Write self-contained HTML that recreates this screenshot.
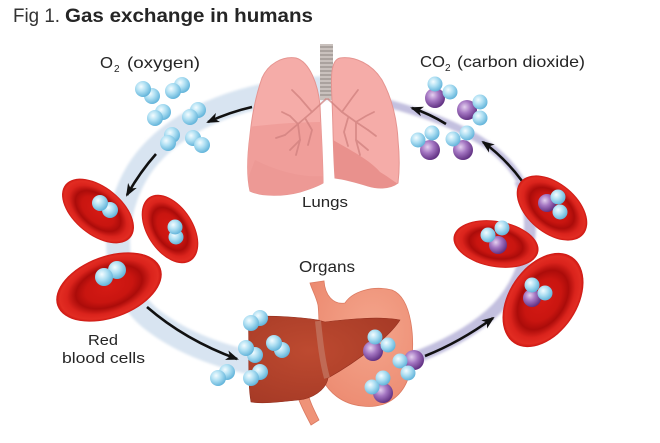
<!DOCTYPE html>
<html><head><meta charset="utf-8"><style>html,body{margin:0;padding:0;background:#fff;width:660px;height:443px;overflow:hidden}</style></head>
<body>
<svg width="660" height="443" viewBox="0 0 660 443" xmlns="http://www.w3.org/2000/svg" font-family="'Liberation Sans', sans-serif">
<defs>
<radialGradient id="gb" cx="0.38" cy="0.35" r="0.68"><stop offset="0" stop-color="#f4fcff"/><stop offset="0.45" stop-color="#b0e0f3"/><stop offset="1" stop-color="#5fb2d9"/></radialGradient>
<radialGradient id="gp" cx="0.38" cy="0.35" r="0.68"><stop offset="0" stop-color="#e4d0ef"/><stop offset="0.45" stop-color="#a476c2"/><stop offset="1" stop-color="#5e2e80"/></radialGradient>
<radialGradient id="rbc" cx="0.5" cy="0.5" r="0.5"><stop offset="0" stop-color="#d51a14"/><stop offset="0.45" stop-color="#c91510"/><stop offset="0.63" stop-color="#ab0c0a"/><stop offset="0.8" stop-color="#da231c"/><stop offset="0.93" stop-color="#e22c22"/><stop offset="1" stop-color="#cc1712"/></radialGradient>
<radialGradient id="liv" cx="0.4" cy="0.4" r="0.7"><stop offset="0" stop-color="#bd4a30"/><stop offset="1" stop-color="#a63a26"/></radialGradient>
<radialGradient id="sto" cx="0.6" cy="0.4" r="0.7"><stop offset="0" stop-color="#f4a58c"/><stop offset="1" stop-color="#ec8a70"/></radialGradient>
<marker id="ah" markerWidth="13" markerHeight="10" refX="11" refY="5" orient="auto" markerUnits="userSpaceOnUse"><path d="M0,0 L13,5 L0,10 L3.5,5 Z" fill="#111"/></marker>
<filter id="soft" x="-10%" y="-10%" width="120%" height="120%"><feGaussianBlur stdDeviation="1.2"/></filter>
<clipPath id="llc"><path d="M296 58 C282 56 268 64 262 78 C256 95 252 115 250 135 C247 158 247 178 250 191 C262 197 285 196 300 192 C310 189 318 186 323 183 C323 160 321 130 320 105 C318 85 310 62 296 58 Z"/></clipPath>
<clipPath id="rlc"><path d="M340 58 C355 56 372 64 382 80 C392 98 397 120 398 140 C400 160 399 175 398 183 C390 189 378 189 368 186 C355 182 343 179 335 178 C333 150 333 120 332 100 C331 80 330 60 340 58 Z"/></clipPath>
</defs>

<!-- ring -->
<path d="M330 88 C260 90 190 110 150 155 C110 200 105 280 150 318 C190 350 250 368 325 373" fill="none" stroke="#d8e4f1" stroke-width="24" filter="url(#soft)"/>
<path d="M320 374 C380 376 450 350 490 315 C530 280 540 220 520 180" fill="none" stroke="#c3c0df" stroke-width="12" filter="url(#soft)"/>
<path d="M520 180 C500 145 455 115 330 90" fill="none" stroke="#c3c0df" stroke-width="8" filter="url(#soft)"/>

<!-- lungs -->
<rect x="320" y="44" width="13" height="56" fill="#c9c1bd"/>
<g stroke="#8c827e" stroke-width="1">
<line x1="320" y1="47" x2="333" y2="47"/><line x1="320" y1="51" x2="333" y2="51"/><line x1="320" y1="55" x2="333" y2="55"/><line x1="320" y1="59" x2="333" y2="59"/><line x1="320" y1="63" x2="333" y2="63"/><line x1="320" y1="67" x2="333" y2="67"/><line x1="320" y1="71" x2="333" y2="71"/><line x1="320" y1="75" x2="333" y2="75"/><line x1="320" y1="79" x2="333" y2="79"/><line x1="320" y1="83" x2="333" y2="83"/><line x1="320" y1="87" x2="333" y2="87"/><line x1="320" y1="91" x2="333" y2="91"/><line x1="320" y1="95" x2="333" y2="95"/>
</g>
<path d="M296 58 C282 56 268 64 262 78 C256 95 252 115 250 135 C247 158 247 178 250 191 C262 197 285 196 300 192 C310 189 318 186 323 183 C323 160 321 130 320 105 C318 85 310 62 296 58 Z" fill="#f5aca8" stroke="#e59490" stroke-width="1"/>
<path d="M340 58 C355 56 372 64 382 80 C392 98 397 120 398 140 C400 160 399 175 398 183 C390 189 378 189 368 186 C355 182 343 179 335 178 C333 150 333 120 332 100 C331 80 330 60 340 58 Z" fill="#f5aca8" stroke="#e59490" stroke-width="1"/>
<g clip-path="url(#llc)"><path d="M240 128 C270 124 300 122 325 122 L325 200 L240 200 Z" fill="#f09e9a"/><path d="M255 160 C275 170 300 178 325 176 L325 200 L240 200 Z" fill="#eb9692" opacity="0.6"/></g>
<g clip-path="url(#rlc)"><path d="M333 140 C350 150 370 160 380 172 C390 178 396 183 400 185 L400 195 L330 195 Z" fill="#e9918d"/></g>
<g fill="none" stroke="#d0807e" stroke-width="1.8" opacity="0.75" stroke-linecap="round">
<path d="M326 99 L312 112 L298 124 L285 135"/><path d="M312 112 L300 98 L292 90"/><path d="M298 124 L290 116 L282 112"/><path d="M298 124 L300 140 L296 155"/><path d="M285 135 L276 138"/><path d="M300 140 L290 150"/><path d="M305 118 L312 130 L308 145"/>
<path d="M328 99 L342 112 L356 122 L368 130"/><path d="M342 112 L352 98 L358 90"/><path d="M356 122 L366 116 L374 112"/><path d="M356 122 L356 140 L360 155"/><path d="M368 130 L376 136"/><path d="M356 140 L368 150"/><path d="M348 118 L344 132 L348 146"/>
</g>

<!-- arrows -->
<g fill="none" stroke="#111" stroke-width="2.6" marker-end="url(#ah)">
<path d="M252 107 Q230 112 208 122"/>
<path d="M156 154 Q140 172 127 195"/>
<path d="M147 307 Q185 340 237 359"/>
<path d="M425 356 Q460 342 493 318"/>
<path d="M522 181 Q505 158 483 142"/>
<path d="M446 124 Q430 114 412 108"/>
</g>

<!-- O2 top-left -->
<g fill="url(#gb)">
<circle cx="152" cy="96" r="8"/><circle cx="143" cy="89" r="8"/>
<circle cx="182" cy="85" r="8"/><circle cx="173" cy="91" r="8"/>
<circle cx="163" cy="112" r="8"/><circle cx="155" cy="118" r="8"/>
<circle cx="198" cy="110" r="8"/><circle cx="190" cy="117" r="8"/>
<circle cx="172" cy="135" r="8"/><circle cx="168" cy="143" r="8"/>
<circle cx="193" cy="138" r="8"/><circle cx="202" cy="145" r="8"/>
</g>

<!-- CO2 top-right -->
<g>
<circle cx="435" cy="98" r="10" fill="url(#gp)"/><circle cx="435" cy="84" r="7.5" fill="url(#gb)"/><circle cx="450" cy="92" r="7.5" fill="url(#gb)"/>
<circle cx="467" cy="110" r="10" fill="url(#gp)"/><circle cx="480" cy="102" r="7.5" fill="url(#gb)"/><circle cx="480" cy="118" r="7.5" fill="url(#gb)"/>
<circle cx="430" cy="150" r="10" fill="url(#gp)"/><circle cx="418" cy="140" r="7.5" fill="url(#gb)"/><circle cx="432" cy="133" r="7.5" fill="url(#gb)"/>
<circle cx="463" cy="150" r="10" fill="url(#gp)"/><circle cx="453" cy="139" r="7.5" fill="url(#gb)"/><circle cx="467" cy="133" r="7.5" fill="url(#gb)"/>
</g>

<!-- left RBCs -->
<g transform="translate(98,211) rotate(39)"><ellipse rx="42" ry="24" fill="url(#rbc)"/></g>
<circle cx="110" cy="210" r="8" fill="url(#gb)"/><circle cx="100" cy="203" r="8" fill="url(#gb)"/>
<g transform="translate(170,229) rotate(57)"><ellipse rx="38" ry="23" fill="url(#rbc)"/></g>
<circle cx="176" cy="237" r="7.5" fill="url(#gb)"/><circle cx="175" cy="227" r="7.5" fill="url(#gb)"/>
<g transform="translate(109,287) rotate(-20)"><ellipse rx="55" ry="31" fill="url(#rbc)"/></g>
<circle cx="117" cy="270" r="9" fill="url(#gb)"/><circle cx="104" cy="277" r="9" fill="url(#gb)"/>

<!-- right RBCs -->
<g transform="translate(552,208) rotate(40)"><ellipse rx="41" ry="25" fill="url(#rbc)"/></g>
<circle cx="547" cy="203" r="9" fill="url(#gp)"/><circle cx="558" cy="197" r="7.5" fill="url(#gb)"/><circle cx="560" cy="212" r="7.5" fill="url(#gb)"/>
<g transform="translate(496,244) rotate(10)"><ellipse rx="43" ry="23" fill="url(#rbc)"/></g>
<circle cx="498" cy="245" r="9" fill="url(#gp)"/><circle cx="488" cy="235" r="7.5" fill="url(#gb)"/><circle cx="502" cy="228" r="7.5" fill="url(#gb)"/>
<g transform="translate(543,300) rotate(-56)"><ellipse rx="52" ry="34" fill="url(#rbc)"/></g>
<circle cx="532" cy="298" r="9" fill="url(#gp)"/><circle cx="532" cy="285" r="7.5" fill="url(#gb)"/><circle cx="545" cy="293" r="7.5" fill="url(#gb)"/>

<!-- organs -->
<path d="M296 392 C300 405 306 415 311 425 L319 420 C314 410 309 400 307 390 Z" fill="#ef9378" stroke="#d9775f" stroke-width="0.8"/>
<path d="M310 283 L324 281 C325 295 333 305 345 303 C352 292 372 285 392 290 C412 298 416 340 410 372 C404 398 384 409 362 406 C342 404 328 392 322 378 C318 350 320 320 318 305 C316 296 312 290 310 283 Z" fill="url(#sto)" stroke="#dc7b62" stroke-width="0.8"/>
<path d="M248 317 C270 315 300 317 318 320 L325 322 C350 319 380 316 400 320 C390 336 360 360 328 378 C326 390 312 399 298 400 C280 402 262 404 251 402 C247 380 250 345 248 317 Z" fill="url(#liv)" stroke="#93301f" stroke-width="0.6"/>
<path d="M318 321 C320 340 322 360 327 378" fill="none" stroke="#c2735f" stroke-width="6" opacity="0.8"/>

<!-- O2 on liver -->
<g fill="url(#gb)">
<circle cx="260" cy="318" r="8"/><circle cx="251" cy="323" r="8"/>
<circle cx="255" cy="355" r="8"/><circle cx="246" cy="348" r="8"/>
<circle cx="282" cy="350" r="8"/><circle cx="274" cy="343" r="8"/>
<circle cx="260" cy="372" r="8"/><circle cx="251" cy="378" r="8"/>
<circle cx="227" cy="372" r="8"/><circle cx="218" cy="378" r="8"/>
</g>
<!-- CO2 on organs -->
<circle cx="373" cy="351" r="10" fill="url(#gp)"/><circle cx="375" cy="337" r="7.5" fill="url(#gb)"/><circle cx="388" cy="345" r="7.5" fill="url(#gb)"/>
<circle cx="414" cy="360" r="10" fill="url(#gp)"/><circle cx="400" cy="361" r="7.5" fill="url(#gb)"/><circle cx="408" cy="373" r="7.5" fill="url(#gb)"/>
<circle cx="383" cy="393" r="10" fill="url(#gp)"/><circle cx="372" cy="387" r="7.5" fill="url(#gb)"/><circle cx="383" cy="378" r="7.5" fill="url(#gb)"/>

<!-- text -->
<g fill="#252525">
<text x="13" y="22" font-size="19.5" fill="#333" textLength="47" lengthAdjust="spacingAndGlyphs">Fig 1.</text>
<text x="65" y="22" font-size="19.5" font-weight="bold" textLength="248" lengthAdjust="spacingAndGlyphs">Gas exchange in humans</text>

<text x="100" y="68" font-size="16" textLength="13" lengthAdjust="spacingAndGlyphs">O</text>
<text x="114" y="72" font-size="10">2</text>
<text x="127" y="68" font-size="16" textLength="73" lengthAdjust="spacingAndGlyphs">(oxygen)</text>

<text x="420" y="67" font-size="16" textLength="25" lengthAdjust="spacingAndGlyphs">CO</text>
<text x="445" y="71" font-size="10">2</text>
<text x="457" y="67" font-size="16" textLength="128" lengthAdjust="spacingAndGlyphs">(carbon dioxide)</text>

<text x="302" y="207" font-size="15" textLength="46" lengthAdjust="spacingAndGlyphs">Lungs</text>
<text x="299" y="272" font-size="15.5" textLength="56" lengthAdjust="spacingAndGlyphs">Organs</text>
<text x="88" y="345" font-size="15" textLength="30" lengthAdjust="spacingAndGlyphs">Red</text>
<text x="62" y="363" font-size="15" textLength="83" lengthAdjust="spacingAndGlyphs">blood cells</text>
</g>
</svg>
</body></html>
